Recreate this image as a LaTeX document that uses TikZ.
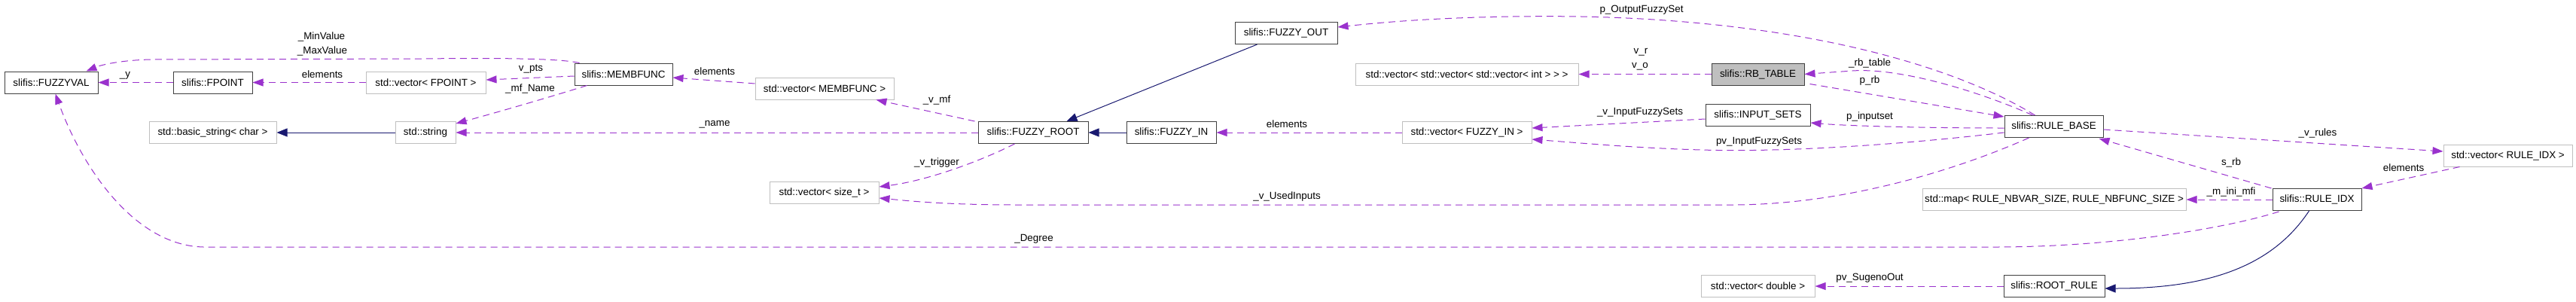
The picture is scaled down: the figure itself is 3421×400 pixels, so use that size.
\documentclass[tikz,border=0pt]{standalone}
\usepackage{fontspec}
\setmainfont{Liberation Sans}
\usetikzlibrary{arrows.meta,calc}
\definecolor{edgepurple}{HTML}{9A32CD}
\definecolor{navyedge}{HTML}{191970}
\definecolor{clsborder}{HTML}{404040}
\definecolor{extborder}{HTML}{BFBFBF}
\definecolor{curfill}{HTML}{BFBFBF}
\begin{document}
\begin{tikzpicture}[x=1pt,y=-1pt,
  every node/.style={font=\fontsize{13.4}{16}\selectfont},
  cls/.style={draw=clsborder, line width=1pt, inner sep=0pt, minimum height=29pt, fill=white},
  ext/.style={draw=extborder, line width=1pt, inner sep=0pt, minimum height=29pt, fill=white},
  cur/.style={cls, fill=curfill},
  uses/.style={draw=edgepurple, line width=1pt, dash pattern=on 9pt off 6pt, -{Triangle[length=14pt,width=10pt,fill=edgepurple]}},
  inh/.style={draw=navyedge, line width=1pt, -{Triangle[length=14pt,width=11pt,fill=navyedge]}},
  lbl/.style={inner sep=0pt}
]
\useasboundingbox (0,0) rectangle (3421,400);

% nodes
\node[cls, minimum width=124pt] (fv)  at (68,109.5)   {slifis::FUZZYVAL};
\node[cls, minimum width=105pt] (fp)  at (282.5,109.5) {slifis::FPOINT};
\node[ext, minimum width=169pt] (bs)  at (282.5,176)  {std::basic\_string< char >};
\node[ext, minimum width=159pt] (vfp) at (565.5,109.5) {std::vector< FPOINT >};
\node[ext, minimum width=80pt]  (str) at (565,176)    {std::string};
\node[cls, minimum width=130pt] (mf)  at (828,98.5)   {slifis::MEMBFUNC};
\node[ext, minimum width=184pt] (vmf) at (1095,117.5) {std::vector< MEMBFUNC >};
\node[ext, minimum width=145pt] (vst) at (1094.5,256) {std::vector< size\_t >};
\node[cls, minimum width=146pt] (fr)  at (1372,176)   {slifis::FUZZY\_ROOT};
\node[cls, minimum width=136pt] (fo)  at (1708,44)    {slifis::FUZZY\_OUT};
\node[cls, minimum width=119pt] (fi)  at (1555.5,176) {slifis::FUZZY\_IN};
\node[ext, minimum width=296pt] (vvv) at (1948,98.5)  {std::vector< std::vector< std::vector< int > > >};
\node[ext, minimum width=172pt] (vfi) at (1948,176)   {std::vector< FUZZY\_IN >};
\node[cur, minimum width=123pt] (rbt) at (2334.5,98.5) {slifis::RB\_TABLE};
\node[cls, minimum width=139pt] (is)  at (2334.5,153) {slifis::INPUT\_SETS};
\node[cls, minimum width=131pt] (rb)  at (2727.5,168) {slifis::RULE\_BASE};
\node[ext, minimum width=350pt] (map) at (2728,265)   {std::map< RULE\_NBVAR\_SIZE, RULE\_NBFUNC\_SIZE >};
\node[ext, minimum width=151pt] (vd)  at (2334.5,380) {std::vector< double >};
\node[cls, minimum width=134pt] (rr)  at (2728,380)   {slifis::ROOT\_RULE};
\node[cls, minimum width=118pt] (ri)  at (3077,265)   {slifis::RULE\_IDX};
\node[ext, minimum width=171pt] (vri) at (3330.5,206.5) {std::vector< RULE\_IDX >};

% connectors
\draw[uses] ($(mf.north west)+(7,0)$) .. controls (740,77) and (650,77) .. (560,78) -- (200,79) .. controls (160,80) and (135,86) .. ($(fv.north east)+(-16,0)$);
\draw[uses] (fp.west) -- (fv.east);
\draw[uses] (vfp.west) -- (fp.east);
\draw[uses] ($(mf.west)+(0,2.5)$) -- ($(vfp.east)+(0,-3.5)$);
\draw[uses] ($(mf.south west)+(17,0)$) .. controls (720,132) and (650,152) .. ($(str.north east)+(0,3)$);
\draw[uses] ($(vmf.west)+(0,-6.5)$) -- ($(mf.east)+(0,4.5)$);
\draw[uses] ($(fr.north west)+(-4,0)$) -- ($(vmf.south east)+(-24,0)$);
\draw[uses] (fr.west) -- (str.east);
\draw[uses] ($(fr.south west)+(49,0)$) .. controls (1300,215) and (1230,240) .. ($(vst.east)+(0,-8)$);
\draw[inh] (str.west) -- (bs.east);
\draw[inh] ($(fo.south west)+(30,0)$) -- ($(fr.north west)+(118,0)$);
\draw[inh] (fi.west) -- (fr.east);
\draw[uses] (vfi.west) -- (fi.east);
\draw[uses] ($(rb.north west)+(41,0)$) .. controls (2600,90) and (2400,28) .. (2100,22) .. controls (1950,20) and (1850,28) .. ($(fo.east)+(0,-8)$);
\draw[uses] ($(rb.north west)+(38,0)$) .. controls (2620,118) and (2520,90) .. (2460,94) -- (rbt.east);
\draw[uses] (rbt.west) -- (vvv.east);
\draw[uses] ($(rbt.south east)+(7,-2)$) -- ($(rb.north west)+(0,2)$);
\draw[uses] ($(rb.west)+(0,2)$) .. controls (2550,170) and (2450,167) .. ($(is.east)+(0,10)$);
\draw[uses] ($(is.west)+(0,5)$) -- ($(vfi.east)+(0,-6)$);
\draw[uses] ($(rb.west)+(0,8)$) .. controls (2500,195) and (2350,202) .. (2260,199) .. controls (2180,197) and (2100,190) .. ($(vfi.east)+(0,9)$);
\draw[uses] ($(rb.south west)+(33,0)$) .. controls (2600,225) and (2450,272) .. (2300,272) -- (1350,272) .. controls (1250,272) and (1200,266) .. ($(vst.east)+(0,7)$);
\draw[uses] ($(rb.east)+(0,4)$) -- ($(vri.west)+(0,-5.5)$);
\draw[uses] ($(vri.south west)+(22,0)$) -- (ri.north east);
\draw[uses] ($(ri.north west)+(-1,0)$) -- ($(rb.south east)+(-6,1)$);
\draw[uses] (ri.west) -- (map.east);
\draw[uses] ($(ri.south west)+(9,1)$) .. controls (2950,305) and (2800,328) .. (2650,328) -- (270,328) .. controls (180,326) and (110,225) .. ($(fv.south west)+(68,0)$);
\draw[inh] ($(ri.south west)+(49,0)$) .. controls (3020,350) and (2940,383) .. ($(rr.east)+(0,3)$);
\draw[uses] (rr.west) -- (vd.east);

% labels
\node[lbl] (l1)  at (427,49)   {\_MinValue};
\node[lbl] (l2)  at (428,68)   {\_MaxValue};
\node[lbl] (l3)  at (166,100)  {\_y};
\node[lbl] (l4)  at (428,99)   {elements};
\node[lbl] (l5)  at (705,92)   {v\_pts};
\node[lbl] (l6)  at (704,118)  {\_mf\_Name};
\node[lbl] (l7)  at (949,95)   {elements};
\node[lbl] (l8)  at (1244,133) {\_v\_mf};
\node[lbl] (l9)  at (949,165)  {\_name};
\node[lbl] (l10) at (1244,216) {\_v\_trigger};
\node[lbl] (l11) at (1709,165) {elements};
\node[lbl] (l12) at (1709,261) {\_v\_UsedInputs};
\node[lbl] (l13) at (1373,317) {\_Degree};
\node[lbl] (l14) at (2180,13)  {p\_OutputFuzzySet};
\node[lbl] (l15) at (2179,69)  {v\_r};
\node[lbl] (l16) at (2178,88)  {v\_o};
\node[lbl] (l17) at (2178,149) {\_v\_InputFuzzySets};
\node[lbl] (l18) at (2483,84)  {\_rb\_table};
\node[lbl] (l19) at (2483,107) {p\_rb};
\node[lbl] (l20) at (2483,155) {p\_inputset};
\node[lbl] (l21) at (2336,188) {pv\_InputFuzzySets};
\node[lbl] (l22) at (2483,369) {pv\_SugenoOut};
\node[lbl] (l23) at (2963,216) {s\_rb};
\node[lbl] (l24) at (2963,255) {\_m\_ini\_mfi};
\node[lbl] (l25) at (3078,177) {\_v\_rules};
\node[lbl] (l26) at (3192,223) {elements};
\end{tikzpicture}
\end{document}
